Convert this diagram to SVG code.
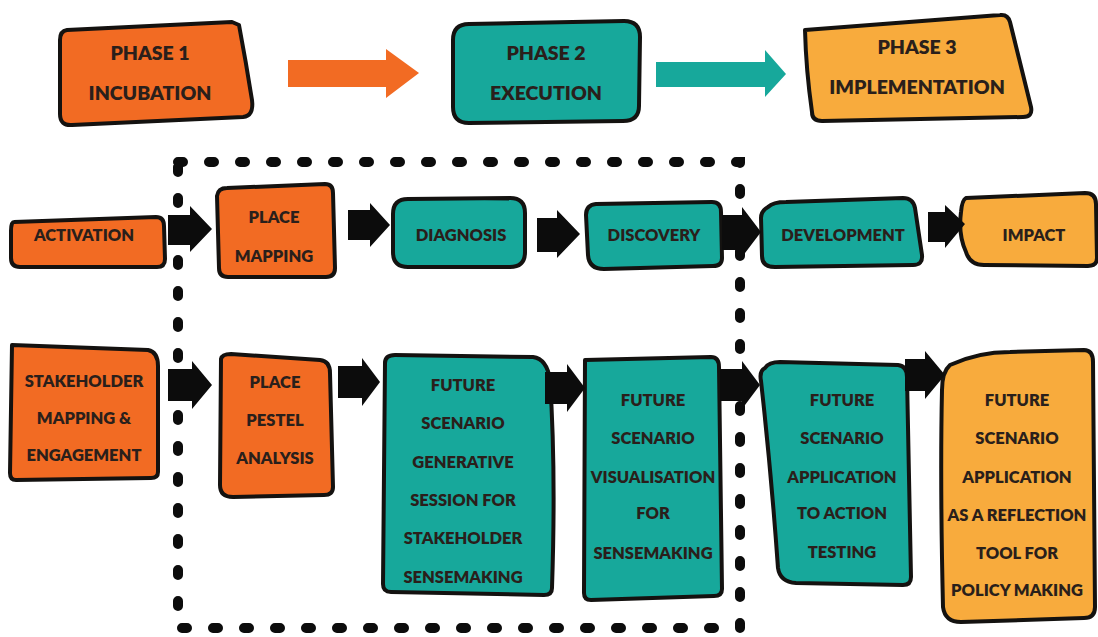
<svg xmlns="http://www.w3.org/2000/svg" width="1098" height="637" viewBox="0 0 1098 637">
  <style>
    .box { stroke: #141210; stroke-width: 4; stroke-linejoin: round; }
    .orange { fill: #F26B23; }
    .teal { fill: #17A89B; }
    .gold { fill: #F8AB3D; }
    .label { font-family: "Lato", "Liberation Sans", sans-serif; font-weight: 800; font-size: 16.5px; fill: #2A1F1B; text-anchor: middle; }
    .phase { font-size: 19.5px; }
    .blk { fill: #0c0c0c; }
    .frame { fill: none; stroke: #0c0c0c; stroke-width: 10; stroke-dasharray: 5 26; stroke-linecap: round; }
  </style>

  <rect width="1098" height="637" fill="#ffffff"/>

  <!-- dashed frame around the core steps -->
  <g id="frame">
    <rect class="frame" x="178" y="162" width="562" height="466"/>
  </g>

  <!-- phase headers -->
  <g id="phase1">
    <path class="box orange" d="M67,30 L232,22 L239,25 Q246,62 252,100 Q254,116 243,117 L72,125 Q60,126 60,114 L60,40 Q60,31 67,30 Z"/>
    <text class="label phase" x="150" y="60">PHASE 1</text>
    <text class="label phase" x="150" y="100">INCUBATION</text>
  </g>
  <g id="phase2">
    <path class="box teal" d="M469,24 L624,21 Q640,21 640,37 L639,106 Q639,121 623,121 L469,123 Q453,123 453,107 L453,40 Q453,24 469,24 Z"/>
    <text class="label phase" x="546" y="60">PHASE 2</text>
    <text class="label phase" x="546" y="100">EXECUTION</text>
  </g>
  <g id="phase3">
    <path class="box gold" d="M805,30 L1000,15 Q1008,14 1010,22 L1031,107 Q1033,117 1023,117 L822,121 Q812,121 812,112 Q806,70 805,30 Z"/>
    <text class="label phase" x="917" y="54">PHASE 3</text>
    <text class="label phase" x="917" y="94">IMPLEMENTATION</text>
  </g>

  <!-- middle row -->
  <g id="activation">
    <path class="box orange" d="M14,222 L156,217 Q164,217 164,226 L165,259 Q165,267 157,267 L20,267 Q11,267 11,258 L11,231 Q11,222 14,222 Z"/>
    <text class="label" x="84" y="241">ACTIVATION</text>
  </g>
  <g id="place-mapping">
    <path class="box orange" d="M217,196 Q218,188 227,188 L325,184 Q333,184 333,193 L335,268 Q335,277 326,277 L228,277 Q219,277 219,268 Z"/>
    <text class="label" x="274" y="223">PLACE</text>
    <text class="label" x="274" y="262">MAPPING</text>
  </g>
  <g id="diagnosis">
    <path class="box teal" d="M408,199 L510,198 Q525,198 525,213 L525,252 Q525,267 510,267 L408,267 Q393,267 393,252 L393,214 Q393,199 408,199 Z"/>
    <text class="label" x="461" y="241">DIAGNOSIS</text>
  </g>
  <g id="discovery">
    <path class="box teal" d="M596,204 L712,202 Q721,202 721,212 L722,258 Q722,266 713,266 L604,269 Q589,269 588,255 L586,215 Q586,205 596,204 Z"/>
    <text class="label" x="654" y="241">DISCOVERY</text>
  </g>
  <g id="development">
    <path class="box teal" d="M768,207 Q773,202 786,202 L903,198 Q913,198 915,208 L922,255 Q923,265 913,265 L775,267 Q762,267 762,256 L761,218 Q761,211 768,207 Z"/>
    <text class="label" x="843" y="241">DEVELOPMENT</text>
  </g>
  <g id="impact">
    <path class="box gold" d="M966,198 L1085,193 Q1096,193 1096,204 L1097,258 Q1097,266 1088,266 L984,265 Q970,265 966,252 Q958,235 961,212 Q962,200 966,198 Z"/>
    <text class="label" x="1034" y="241">IMPACT</text>
  </g>

  <!-- bottom row -->
  <g id="stakeholder">
    <path class="box orange" d="M12,345 L148,350 Q158,352 158,366 L158,472 Q158,478 151,478 L16,480 Q10,480 10,473 Z"/>
    <text class="label" x="84" y="387">STAKEHOLDER</text>
    <text class="label" x="84" y="424">MAPPING &amp;</text>
    <text class="label" x="84" y="461">ENGAGEMENT</text>
  </g>
  <g id="pestel">
    <path class="box orange" d="M221,359 Q222,354 231,354 L320,360 Q330,361 330,373 L333,487 Q333,495 324,495 L233,497 Q220,497 220,485 Z"/>
    <text class="label" x="275" y="388">PLACE</text>
    <text class="label" x="275" y="426">PESTEL</text>
    <text class="label" x="275" y="464">ANALYSIS</text>
  </g>
  <g id="generative">
    <path class="box teal" d="M385,363 Q385,355 395,355 L533,357 Q547,359 550,380 Q556,470 552,588 Q552,595 544,595 L391,592 Q383,592 383,584 Z"/>
    <text class="label" x="463" y="391">FUTURE</text>
    <text class="label" x="463" y="429">SCENARIO</text>
    <text class="label" x="463" y="468">GENERATIVE</text>
    <text class="label" x="463" y="506">SESSION FOR</text>
    <text class="label" x="463" y="544">STAKEHOLDER</text>
    <text class="label" x="463" y="583">SENSEMAKING</text>
  </g>
  <g id="visualisation">
    <path class="box teal" d="M585,360 L711,357 Q719,357 719,367 L722,589 Q722,596 714,596 L591,600 Q584,600 584,593 Z"/>
    <text class="label" x="653" y="406">FUTURE</text>
    <text class="label" x="653" y="444">SCENARIO</text>
    <text class="label" x="653" y="483">VISUALISATION</text>
    <text class="label" x="653" y="519">FOR</text>
    <text class="label" x="653" y="559">SENSEMAKING</text>
  </g>
  <g id="action-testing">
    <path class="box teal" d="M765,368 Q769,362 780,362 L898,365 Q907,366 907,377 L911,577 Q911,585 903,585 L796,583 Q780,582 778,568 Q771,470 761,381 Q759,371 765,368 Z"/>
    <text class="label" x="842" y="406">FUTURE</text>
    <text class="label" x="842" y="444">SCENARIO</text>
    <text class="label" x="842" y="483">APPLICATION</text>
    <text class="label" x="842" y="519">TO ACTION</text>
    <text class="label" x="842" y="558">TESTING</text>
  </g>
  <g id="reflection-tool">
    <path class="box gold" d="M950,365 Q978,352 1010,352 L1084,350 Q1093,350 1093,362 L1095,607 Q1095,618 1084,618 L961,622 Q945,622 943,607 Q940,480 942,390 Q942,372 950,365 Z"/>
    <text class="label" x="1017" y="406">FUTURE</text>
    <text class="label" x="1017" y="444">SCENARIO</text>
    <text class="label" x="1017" y="483">APPLICATION</text>
    <text class="label" x="1017" y="521">AS A REFLECTION</text>
    <text class="label" x="1017" y="559">TOOL FOR</text>
    <text class="label" x="1017" y="596">POLICY MAKING</text>
  </g>

  <!-- connectors -->
  <g id="connectors">
    <path fill="#F26B23" d="M288,60 L386,60 L386,49 L419,73 L386,98 L386,87 L288,87 Z"/>
    <path fill="#17A89B" d="M656,62 L765,62 L765,50 L786,74 L765,97 L765,87 L656,87 Z"/>

    <path class="blk" d="M168,215 L190,215 L190,206 L212,229 L190,252 L190,245 L168,245 Z"/>
    <path class="blk" d="M348,210 L370,210 L370,203 L390,225 L370,247 L370,240 L348,240 Z"/>
    <path class="blk" d="M537,218 L557,218 L557,210 L580,234 L557,258 L557,252 L537,252 Z"/>
    <path class="blk" d="M722,215 L742,215 L742,207 L761,232 L742,257 L742,250 L722,250 Z"/>
    <path class="blk" d="M928,212 L945,212 L945,205 L965,224 L945,248 L945,242 L928,242 Z"/>

    <path class="blk" d="M168,369 L192,369 L192,361 L212,385 L192,409 L192,401 L168,401 Z"/>
    <path class="blk" d="M338,366 L362,366 L362,358 L380,382 L362,406 L362,398 L338,398 Z"/>
    <path class="blk" d="M545,372 L567,372 L567,364 L585,388 L567,412 L567,404 L545,404 Z"/>
    <path class="blk" d="M720,369 L742,369 L742,361 L760,385 L742,409 L742,401 L720,401 Z"/>
    <path class="blk" d="M905,359 L925,359 L925,351 L945,375 L925,399 L925,391 L905,391 Z"/>
  </g>
</svg>
